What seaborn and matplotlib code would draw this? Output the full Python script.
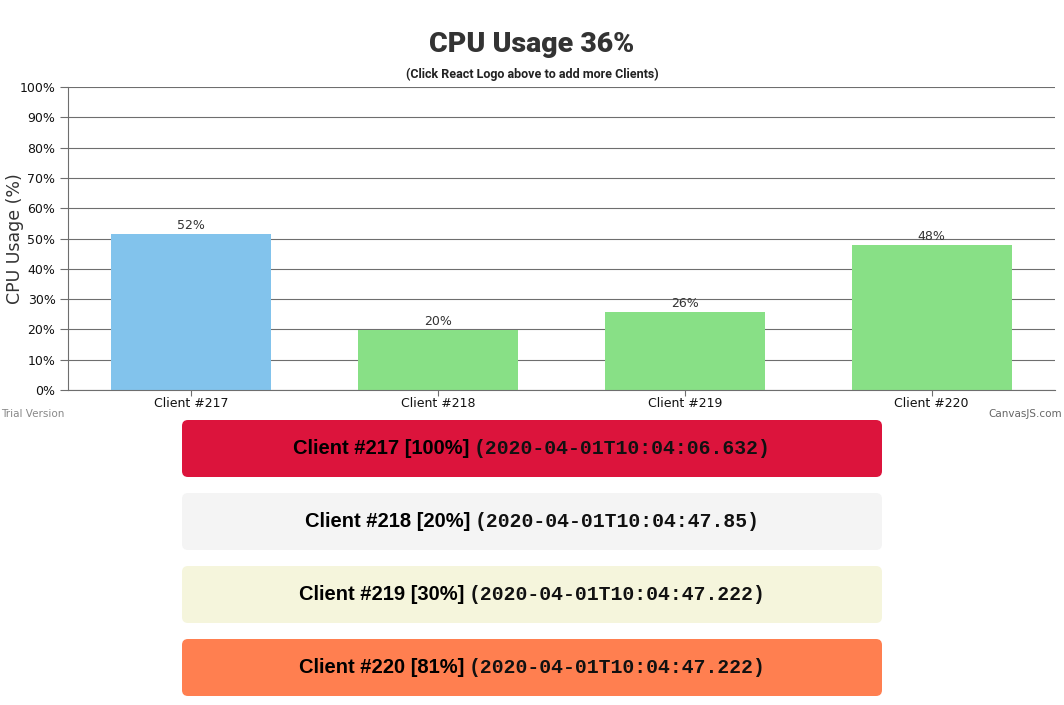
import matplotlib
matplotlib.use("Agg")
import matplotlib.pyplot as plt
import seaborn as sns
import pandas as pd
from matplotlib.patches import FancyBboxPatch
from matplotlib.offsetbox import TextArea, HPacker, AnnotationBbox

# chart data
clients = ["Client #217", "Client #218", "Client #219", "Client #220"]
cpu_usage = [51.6, 19.8, 25.7, 47.9]
bar_colors = ["#82C3EC", "#88E086", "#88E086", "#88E086"]
y_ticks = list(range(0, 101, 10))

# status cards below the chart
card_labels = ["Client #217 [100%]", "Client #218 [20%]", "Client #219 [30%]", "Client #220 [81%]"]
card_times = ["(2020-04-01T10:04:06.632)", "(2020-04-01T10:04:47.85)",
              "(2020-04-01T10:04:47.222)", "(2020-04-01T10:04:47.222)"]
card_colors = ["#DC143C", "#F4F4F4", "#F5F5DC", "#FF7F50"]

sns.set_theme(style="white")
plt.rcParams['font.family'] = ['DejaVu Sans']

W, H = 1064, 705
fig = plt.figure(figsize=(W / 100, H / 100), dpi=100)
ax = fig.add_axes([68 / W, 1 - 390 / H, 987 / W, 303 / H])

df = pd.DataFrame({"client": clients, "cpu": cpu_usage})
sns.barplot(data=df, x="client", y="cpu", hue="client", palette=bar_colors,
            width=0.648, legend=False, ax=ax, saturation=1, linewidth=0)

ax.set_xlim(-0.5, 3.5)
ax.set_ylim(0, 100)
ax.set_yticks(y_ticks)
ax.set_yticklabels([f"{t}%" for t in y_ticks], fontsize=9, color="#111111")
ax.yaxis.grid(True, color="#6E6E6E", linewidth=0.8)
ax.set_axisbelow(True)
ax.tick_params(axis="y", length=6, width=0.8, color="#6E6E6E", pad=3, left=True)
ax.tick_params(axis="x", length=4, width=0.8, color="#6E6E6E", labelsize=9,
               labelcolor="#111111", pad=1, bottom=True)
ax.set_xlabel("")
ax.set_ylabel("CPU Usage (%)", fontsize=12.5, color="#333333")
ax.yaxis.set_label_coords(-53 / 987, 0.5)
ax.yaxis.label.set_verticalalignment("center")
for side in ["top", "right"]:
    ax.spines[side].set_visible(False)
for side in ["left", "bottom"]:
    ax.spines[side].set_color("#6E6E6E")
    ax.spines[side].set_linewidth(0.8)

for i, v in enumerate(cpu_usage):
    ax.text(i, v + 0.6, f"{v:.0f}%", ha="center", va="bottom", fontsize=9, color="#333333")

# titles
fig.text(0.5, 1 - 45 / H, "CPU Usage 36%", ha="center", va="center", fontsize=20.5,
         fontweight="heavy", color="#333333", family=["Roboto", "DejaVu Sans"])
fig.text(0.5, 1 - 74 / H, "(Click React Logo above to add more Clients)", ha="center",
         va="center", fontsize=9, fontweight="bold", color="#222222",
         family=["Roboto", "DejaVu Sans"])
fig.text(1 / W, 1 - 414 / H, "Trial Version", ha="left", va="center", fontsize=7.5, color="#888888")
fig.text(1062 / W, 1 - 414 / H, "CanvasJS.com", ha="right", va="center", fontsize=7.5, color="#666666")

# cards
overlay = fig.add_axes([0, 0, 1, 1])
overlay.set_xlim(0, W)
overlay.set_ylim(H, 0)
overlay.axis("off")
card_tops = [420, 493, 566, 639]
for top, lab, ts, col in zip(card_tops, card_labels, card_times, card_colors):
    box = FancyBboxPatch((182 + 6, top + 6), 700 - 12, 57 - 12,
                         boxstyle="round,pad=6", facecolor=col, edgecolor="none")
    overlay.add_patch(box)
    t1 = TextArea(lab, textprops=dict(fontsize=14.5, fontweight="bold", color="black",
                                      family=["Liberation Sans", "DejaVu Sans"]))
    t2 = TextArea(ts, textprops=dict(fontsize=14.2, fontweight="bold", color="#111111",
                                     family=["Liberation Mono", "DejaVu Sans Mono"]))
    pack = HPacker(children=[t1, t2], align="baseline", pad=0, sep=3)
    ab = AnnotationBbox(pack, (532, top + 28.5), xycoords="data", box_alignment=(0.5, 0.5),
                        frameon=False)
    overlay.add_artist(ab)

fig.savefig("out.png", dpi=100)
